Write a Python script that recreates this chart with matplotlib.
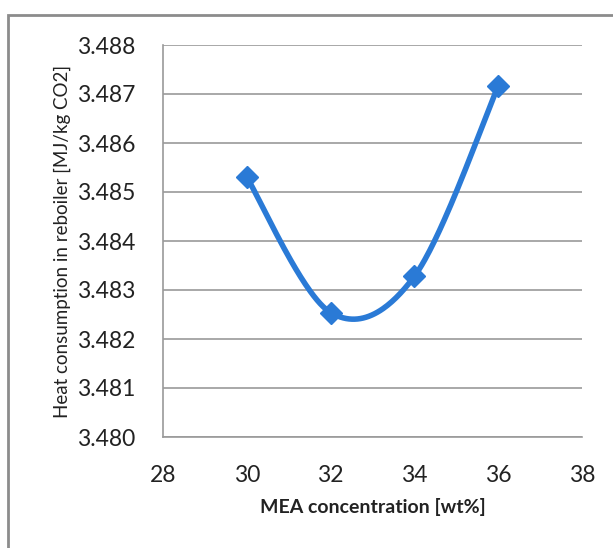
import matplotlib.pyplot as plt
import numpy as np
from matplotlib.patches import Rectangle

# data
mea_wt = [30, 32, 34, 36]
heat = [3.48530, 3.48254, 3.48328, 3.48716]

x_ticks = [28, 30, 32, 34, 36, 38]
y_ticks = [3.480, 3.481, 3.482, 3.483, 3.484, 3.485, 3.486, 3.487, 3.488]


def smooth_line(xs, ys, n=60):
    # Excel-style smoothed line: cubic bezier with catmull-rom control points
    px = [xs[0]] + list(xs) + [xs[-1]]
    py = [ys[0]] + list(ys) + [ys[-1]]
    out_x, out_y = [], []
    t = np.linspace(0, 1, n)
    for i in range(1, len(px) - 2):
        p0 = np.array([px[i], py[i]])
        p3 = np.array([px[i + 1], py[i + 1]])
        c1 = p0 + (p3 - np.array([px[i - 1], py[i - 1]])) / 6
        c2 = p3 - (np.array([px[i + 2], py[i + 2]]) - p0) / 6
        b = (np.outer((1 - t) ** 3, p0) + np.outer(3 * (1 - t) ** 2 * t, c1)
             + np.outer(3 * (1 - t) * t ** 2, c2) + np.outer(t ** 3, p3))
        out_x.extend(b[:, 0])
        out_y.extend(b[:, 1])
    return out_x, out_y


plt.rcParams['font.family'] = ['Lato', 'DejaVu Sans']

fig = plt.figure(figsize=(6.13, 5.48), dpi=100)
fig.patches.append(Rectangle((8 / 613, -0.05), 1.1, 1 - 15 / 548 + 0.05,
                             transform=fig.transFigure, fill=False,
                             edgecolor='#8c8c8c', linewidth=2))

ax = fig.add_axes([163 / 613, 1 - 437 / 548, 419 / 613, 392 / 548])

sx, sy = smooth_line(mea_wt, heat)
ax.plot(sx, sy, color='#2a7ad6', linewidth=4, solid_capstyle='round')
ax.plot(mea_wt, heat, linestyle='none', marker='D', markersize=11,
        color='#2a7ad6')

ax.set_xlim(28, 38)
ax.set_ylim(3.480, 3.488)
ax.set_xticks(x_ticks)
ax.set_yticks(y_ticks)
ax.set_yticklabels(['%.3f' % v for v in y_ticks])
ax.yaxis.grid(True, color='#9a9a9a', linewidth=1.2)
ax.set_axisbelow(True)
ax.tick_params(length=0, labelsize=16.5, colors='#222222')
ax.tick_params(axis='y', pad=20)
ax.tick_params(axis='x', pad=20)

for side in ['top', 'right']:
    ax.spines[side].set_visible(False)
ax.spines['left'].set_color('#9a9a9a')
ax.spines['bottom'].set_color('#9a9a9a')
ax.spines['left'].set_linewidth(1.2)
ax.spines['bottom'].set_linewidth(1.2)

ax.set_xlabel('MEA concentration [wt%]', fontsize=14, fontweight='bold',
              color='#222222', labelpad=9)
ax.set_ylabel('Heat consumption in reboiler [MJ/kg CO2]', fontsize=13.5,
              color='#222222', labelpad=4)

fig.savefig('out.png', dpi=100)
